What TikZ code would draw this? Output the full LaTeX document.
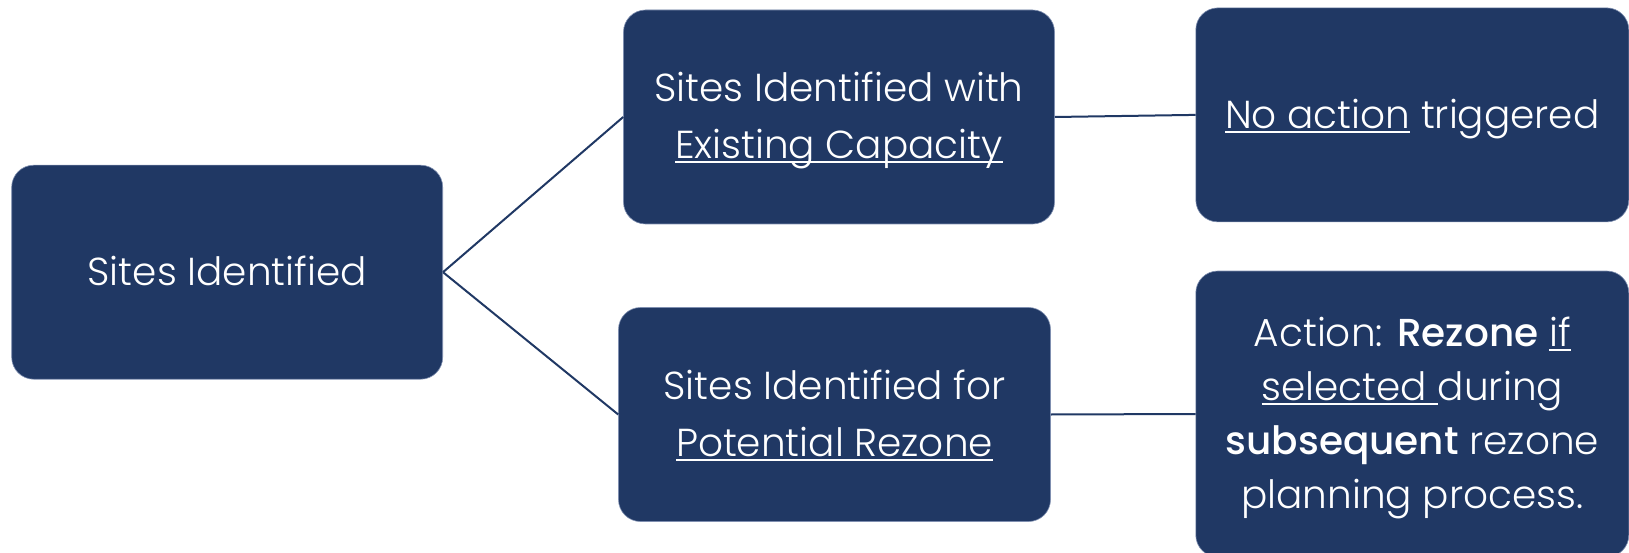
\documentclass[tikz,border=0pt]{standalone}
\usepackage{fontspec}
\setmainfont{Poppins Light}[BoldFont={Poppins Medium}]
\definecolor{navy}{HTML}{203864}
\definecolor{rim}{HTML}{7F8FB0}
\newcommand\myul[1]{\setbox0\hbox{#1}\rlap{\rule[-0.11em]{\wd0}{0.045em}}\box0\relax}
\newcommand\tstrut{\rule{0pt}{40pt}}
\newcommand\bstrut{\rule[-13.2pt]{0pt}{13.2pt}}
\tikzset{
  box/.style={rectangle, rounded corners=22pt, fill=navy, draw=rim, line width=0.6pt,
    text=white, align=center, inner sep=0pt},
  link/.style={draw=navy, line width=2pt},
}
\begin{document}
\begin{tikzpicture}[x=1pt,y=-1pt]
\useasboundingbox (0,0) rectangle (1629,553);
\node[box, minimum width=431pt, minimum height=214pt, font=\fontsize{39}{57}\selectfont] (A) at (227.2,272.2) {\tstrut Sites Identified\bstrut};
\node[box, minimum width=431pt, minimum height=214pt, font=\fontsize{39}{57}\selectfont] (B) at (839,117) {\tstrut Sites Identified with\\\myul{Existing Capacity}\bstrut};
\node[box, minimum width=433pt, minimum height=214pt, font=\fontsize{39}{57}\selectfont] (C) at (1412.3,114.9) {\tstrut\myul{No action} triggered\bstrut};
\node[box, minimum width=432pt, minimum height=214pt, font=\fontsize{39}{57}\selectfont] (D) at (834.5,414.5) {\tstrut Sites Identified for\\\myul{Potential Rezone}\bstrut};
\node[box, minimum width=433pt, minimum height=286pt, font=\fontsize{39}{54}\selectfont] (E) at (1412.3,414) {\tstrut Action: \textbf{Rezone} \myul{if}\\\myul{selected }during\\\textbf{subsequent} rezone\\planning process.\bstrut};
\draw[link] (A.east) -- (B.west);
\draw[link] (A.east) -- (D.west);
\draw[link] (B.east) -- (C.west);
\draw[link] (D.east) -- (E.west);
\end{tikzpicture}
\end{document}
